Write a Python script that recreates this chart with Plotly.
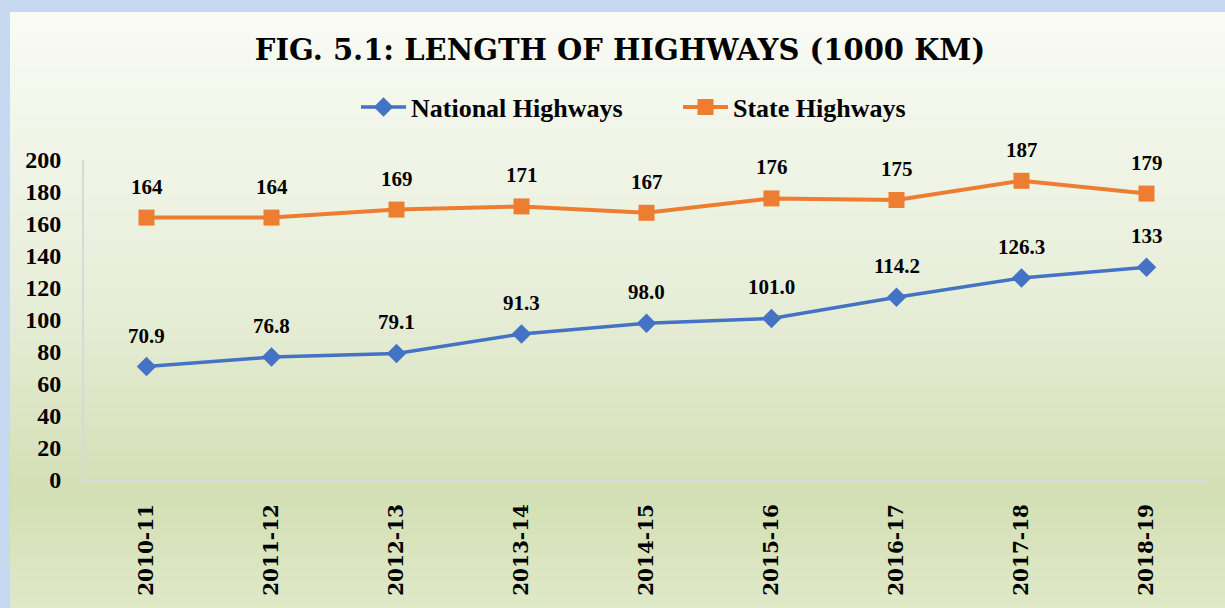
import plotly.graph_objects as go

years = ["2010-11", "2011-12", "2012-13", "2013-14", "2014-15",
         "2015-16", "2016-17", "2017-18", "2018-19"]
national = [70.9, 76.8, 79.1, 91.3, 98.0, 101.0, 114.2, 126.3, 133]
national_labels = ["70.9", "76.8", "79.1", "91.3", "98.0", "101.0", "114.2", "126.3", "133"]
state = [164, 164, 169, 171, 167, 176, 175, 187, 179]
state_labels = ["164", "164", "169", "171", "167", "176", "175", "187", "179"]

W, H = 1225, 608
L, R, T, B = 84, 16, 160, 128
PW, PH = W - L - R, H - T - B

def px_x(p):
    return (p - L) / PW

def px_y(p):
    return (H - B - p) / PH

BLUE = "#4472c4"
ORANGE = "#ed7d31"
SERIF = "Liberation Serif"

fig = go.Figure()
fig.add_trace(go.Scatter(
    x=years, y=national, name="National Highways", mode="lines+markers",
    line=dict(color=BLUE, width=3.5),
    marker=dict(symbol="diamond", size=15, color=BLUE),
    cliponaxis=False,
))
fig.add_trace(go.Scatter(
    x=years, y=state, name="State Highways", mode="lines+markers",
    line=dict(color=ORANGE, width=4),
    marker=dict(symbol="square", size=16, color=ORANGE),
    cliponaxis=False,
))

annotations = []
for xs, ys, ls in ((years, national, national_labels), (years, state, state_labels)):
    for xv, yv, lab in zip(xs, ys, ls):
        annotations.append(dict(
            x=xv, y=yv, text=lab, showarrow=False, yshift=31,
            font=dict(family=SERIF, size=21, color="#000000", weight="bold"),
        ))

# background panel: gradient built from thin bands
stops = [(12, (249, 251, 245)), (300, (231, 238, 216)), (495, (211, 223, 180)), (608, (224, 233, 200))]

def col_at(p):
    for (p0, c0), (p1, c1) in zip(stops[:-1], stops[1:]):
        if p0 <= p <= p1:
            t = (p - p0) / (p1 - p0)
            return "rgb(%d,%d,%d)" % tuple(round(a + (b - a) * t) for a, b in zip(c0, c1))
    return "rgb(%d,%d,%d)" % stops[-1][1]

shapes = []
band = 6
p = 12
while p < H:
    p2 = min(p + band, H)
    shapes.append(dict(
        type="rect", xref="paper", yref="paper", layer="below",
        x0=px_x(10), x1=px_x(W + 2), y0=px_y(p2 + 0.5), y1=px_y(p),
        fillcolor=col_at((p + p2) / 2), line=dict(width=0),
    ))
    p = p2

fig.update_layout(
    width=W, height=H,
    margin=dict(l=L, r=R, t=T, b=B),
    paper_bgcolor="#c6d9f0",
    plot_bgcolor="rgba(0,0,0,0)",
    shapes=shapes,
    annotations=annotations,
    title=dict(
        text="FIG. 5.1: LENGTH OF HIGHWAYS (1000 KM)",
        x=620 / W, xref="container", xanchor="center",
        y=1 - 50 / H, yref="container", yanchor="middle",
        font=dict(family="DejaVu Serif", size=29, color="#000000", weight="bold"),
    ),
    legend=dict(
        orientation="h", x=px_x(356), y=px_y(107),
        xanchor="left", yanchor="middle",
        font=dict(family=SERIF, size=26, color="#000000", weight="bold"),
        bgcolor="rgba(0,0,0,0)", itemwidth=45, entrywidth=262,
    ),
    showlegend=True,
    xaxis=dict(
        type="category", range=[-0.5, 8.5],
        tickangle=-90, showgrid=False, zeroline=False,
        showline=True, linecolor="#d9d9d9", linewidth=2,
        tickfont=dict(family="DejaVu Serif", size=20, color="#000000", weight="bold"),
        ticks="", ticklabelstandoff=14,
    ),
    yaxis=dict(
        range=[0, 200], tickvals=list(range(0, 201, 20)),
        showgrid=False, zeroline=False,
        showline=True, linecolor="#d9d9d9", linewidth=2,
        tickfont=dict(family=SERIF, size=24, color="#000000", weight="bold"),
        ticks="", ticklabelstandoff=16,
    ),
)

fig.write_html(
    "out.html",
    config={"displayModeBar": False},
    post_script="document.body.style.margin='0';document.body.style.padding='0';",
)
